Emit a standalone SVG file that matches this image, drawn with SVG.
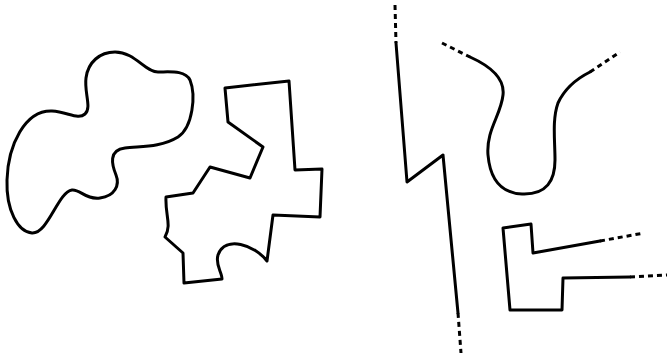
<svg xmlns="http://www.w3.org/2000/svg" width="667" height="359" viewBox="0 0 667 359">
<style>
.s{fill:none;stroke:#000;stroke-width:3;stroke-linejoin:round;stroke-linecap:round}
.d{fill:none;stroke:#000;stroke-width:3;stroke-dasharray:5 4}
</style>
<rect width="667" height="359" fill="#fff"/>
<g id="blob">
<path class="s" d="M115 52 C100 52,88 62,86 78 C84 92,92 108,85 114 C78 120,68 112,52 111 C25 110,8 145,7 180 C6 210,18 232,32 233 C48 234,58 192,72 190 C80 189,86 200,100 198 C115 196,120 185,116 175 C112 165,108 150,125 148 C140 146,160 148,178 137 C193 127,196 95,190 80 C185 70,170 72,158 72 C145 72,135 52,115 52 Z"/>
</g>
<g id="polygon">
<path class="s" d="M225 88 L289 81 L295 170 L322 169 L320 217 L273 215 L267 261 C255 245,225 235,218 255 C215 265,222 272,222 279 L184 283 L183 253 L165 237 C172 225,165 215,166 197 L193 193 L210 167 L250 178 L263 147 L228 122 Z"/>
</g>
<g id="zigzag">
<path class="d" d="M395 5 L396 43"/>
<path class="s" d="M396 43 L407 182 L443 155 L458 313"/>
<path class="d" d="M458 313 L461 353"/>
</g>
<g id="ucurve">
<path class="d" d="M442 43 L470 57"/>
<path class="s" d="M470 57 C490 66,505 78,503 95 C501 115,486 130,488 155 C490 178,500 193,522 194 C547 195,555 180,555 160 C555 140,552 120,558 103 C565 88,578 78,590 72"/>
<path class="d" d="M590 72 L620 52"/>
</g>
<g id="lshape">
<path class="d" d="M600 241 L644 233"/>
<path class="s" d="M600 241 L533 253 L531 224 L503 228 L510 310 L562 310 L563 278 L630 277"/>
<path class="d" d="M630 277 L667 275"/>
</g>
</svg>
